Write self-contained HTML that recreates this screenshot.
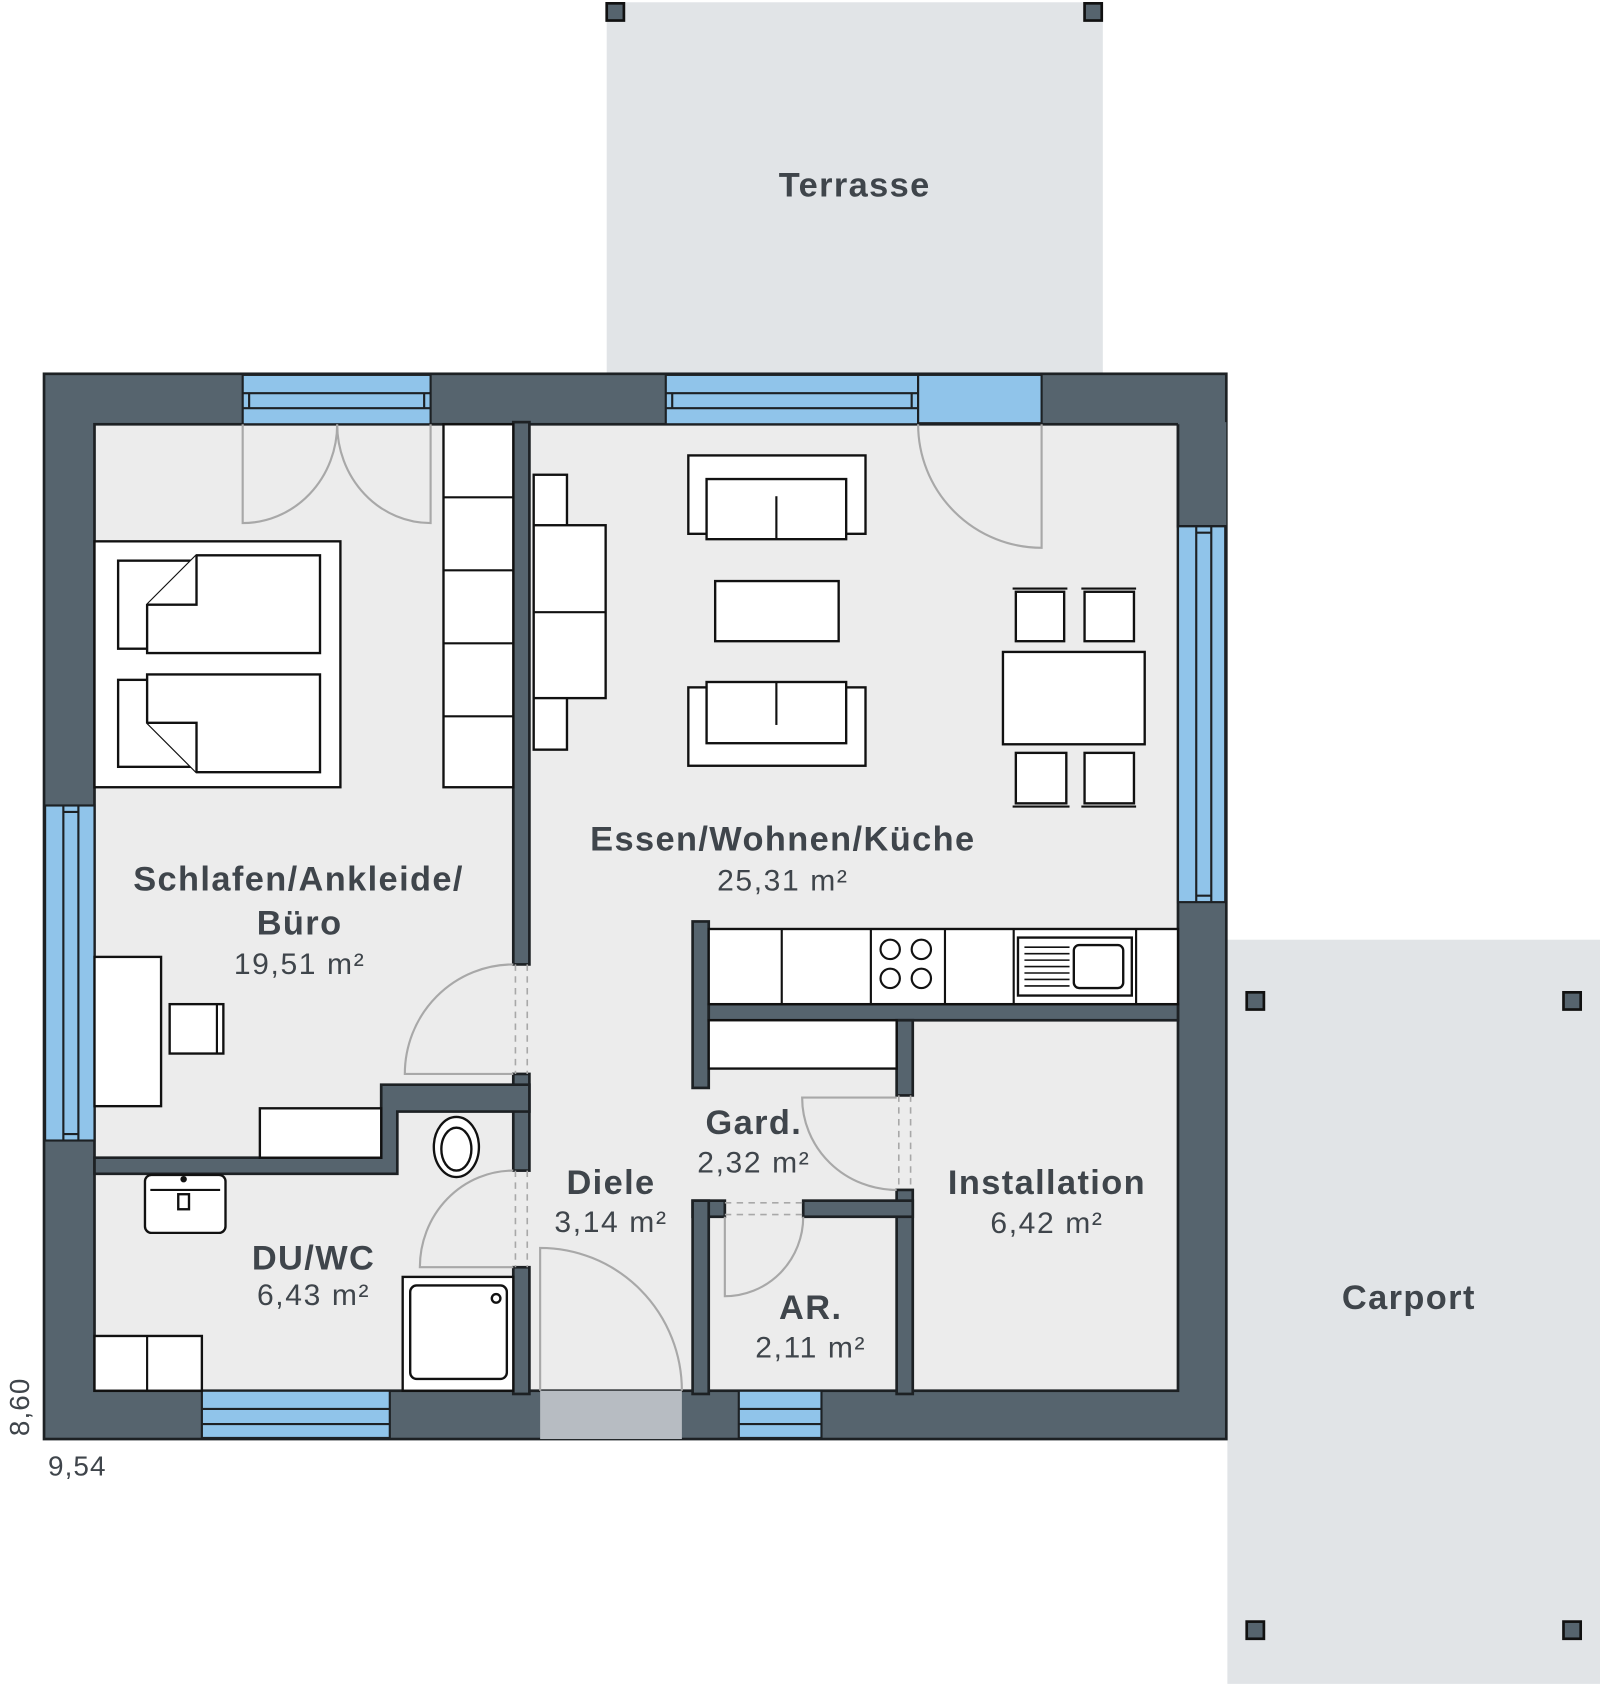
<!DOCTYPE html>
<html><head><meta charset="utf-8"><style>
html,body{margin:0;padding:0;background:#fff}
svg{display:block}
text{font-family:"Liberation Sans",sans-serif;fill:#3f454b;text-anchor:middle}
.b{font-weight:bold;font-size:32px;letter-spacing:1.3px}
.r{font-size:28px;letter-spacing:1.5px}
.w{fill:#56646e;stroke:#1d2124;stroke-width:2.5}
.f{fill:#fff;stroke:#111;stroke-width:2.2}
.d{fill:none;stroke:#a8a8a8;stroke-width:2}
.ds{fill:none;stroke:#a8a8a8;stroke-width:1.5;stroke-dasharray:6 5}
.win{fill:#90c4ea;stroke:#1d2124;stroke-width:2}
.post{fill:#56646e;stroke:#111;stroke-width:2.5}
</style></head><body>
<svg width="1600" height="1684" viewBox="0 0 1490 1568" xmlns="http://www.w3.org/2000/svg">
<rect x="565" y="2" width="462" height="346" fill="#e1e4e7"/>
<rect x="565" y="3" width="16" height="16" class="post"/>
<rect x="1010" y="3" width="16" height="16" class="post"/>
<rect x="1143" y="875" width="347" height="693" fill="#e1e4e7"/>
<rect x="1161" y="924" width="16" height="16" class="post"/>
<rect x="1456" y="924" width="16" height="16" class="post"/>
<rect x="1161" y="1510" width="16" height="16" class="post"/>
<rect x="1456" y="1510" width="16" height="16" class="post"/>
<rect x="41" y="348" width="1101" height="992" class="w"/>
<rect x="88" y="395" width="1009" height="900" fill="#ececec" stroke="#1d2124" stroke-width="2.5"/>
<rect x="1097" y="393" width="45" height="97" fill="#56646e"/>
<path d="M1097 395 V490 H1142" fill="none" stroke="#1d2124" stroke-width="2.5"/>
<rect x="226" y="349" width="175" height="46" class="win"/>
<path d="M226 366 H401 M226 380 H401 M232 366 V380 M395 366 V380" stroke="#1d2124" stroke-width="2" fill="none"/>
<rect x="620" y="349" width="235" height="46" class="win"/>
<path d="M620 366 H855 M620 380 H855 M626 366 V380 M849 366 V380" stroke="#1d2124" stroke-width="2" fill="none"/>
<rect x="855" y="349" width="115" height="45" fill="#90c4ea" stroke="#1d2124" stroke-width="2"/>
<rect x="42" y="750" width="46" height="312" class="win"/>
<path d="M59 750 V1062 M73 750 V1062 M59 756 H73 M59 1056 H73" stroke="#1d2124" stroke-width="2" fill="none"/>
<rect x="1097" y="490" width="44" height="350" class="win"/>
<path d="M1114 490 V840 M1128 490 V840 M1114 496 H1128 M1114 834 H1128" stroke="#1d2124" stroke-width="2" fill="none"/>
<rect x="188" y="1295" width="175" height="44" class="win"/>
<path d="M188 1312 H363 M188 1326 H363" stroke="#1d2124" stroke-width="2" fill="none"/>
<rect x="688" y="1295" width="77" height="44" class="win"/>
<path d="M688 1312 H765 M688 1326 H765" stroke="#1d2124" stroke-width="2" fill="none"/>
<rect x="503" y="1295" width="132" height="45" fill="#b7bcc2"/>
<rect x="478" y="393" width="15" height="505" class="w"/>
<rect x="478" y="1000" width="15" height="90" class="w"/>
<rect x="478" y="1180" width="15" height="118" class="w"/>
<path d="M88 1078 H355 V1010 H493 V1035 H370 V1093 H88 Z" class="w"/>
<rect x="645" y="858" width="15" height="155" class="w"/>
<rect x="660" y="935" width="437" height="15" class="w"/>
<rect x="835" y="950" width="15" height="70" class="w"/>
<rect x="835" y="1108" width="15" height="190" class="w"/>
<rect x="645" y="1118" width="30" height="15" class="w"/>
<rect x="748" y="1118" width="102" height="15" class="w"/>
<rect x="645" y="1118" width="15" height="180" class="w"/>
<rect x="413" y="395" width="65" height="338" class="f"/>
<path d="M413 463 H478 M413 531 H478 M413 599 H478 M413 667 H478" stroke="#111" stroke-width="2"/>
<rect x="88" y="504" width="229" height="229" class="f"/>
<rect x="110" y="522" width="73" height="82" class="f"/>
<path d="M183 517 H298 V608 H137 V563 Z" class="f"/>
<path d="M137 563 H183 V517" class="f"/>
<rect x="110" y="633" width="73" height="81" class="f"/>
<path d="M137 628 H298 V719 H183 L137 673 Z" class="f"/>
<path d="M137 673 H183 V719" class="f"/>
<rect x="88" y="891" width="62" height="139" class="f"/>
<rect x="158" y="935" width="50" height="46" class="f"/>
<path d="M202 935 V981" stroke="#111" stroke-width="2"/>
<rect x="242" y="1032" width="113" height="46" class="f"/>
<rect x="497" y="442" width="31" height="256" class="f"/>
<rect x="497" y="489" width="67" height="161" class="f"/>
<path d="M497 570 H564" stroke="#111" stroke-width="2"/>
<rect x="641" y="424" width="165" height="73" class="f"/>
<rect x="658" y="446" width="130" height="56" class="f"/>
<path d="M723 462 V502" stroke="#111" stroke-width="2"/>
<rect x="666" y="541" width="115" height="56" class="f"/>
<rect x="641" y="640" width="165" height="73" class="f"/>
<rect x="658" y="635" width="130" height="57" class="f"/>
<path d="M723 635 V675" stroke="#111" stroke-width="2"/>
<rect x="934" y="607" width="132" height="86" class="f"/>
<rect x="946" y="551" width="45" height="46" class="f"/>
<rect x="1010" y="551" width="46" height="46" class="f"/>
<rect x="946" y="701" width="47" height="47" class="f"/>
<rect x="1010" y="701" width="46" height="47" class="f"/>
<path d="M943 548 H994 M1007 548 H1058 M943 751 H996 M1007 751 H1058" stroke="#111" stroke-width="2"/>
<rect x="660" y="865" width="437" height="70" class="f"/>
<path d="M728 865 V935 M811 865 V935 M880 865 V935 M944 865 V935 M1058 865 V935" stroke="#111" stroke-width="2"/>
<g fill="none" stroke="#111" stroke-width="2"><circle cx="829" cy="884" r="9"/><circle cx="858" cy="884" r="9"/><circle cx="829" cy="911" r="9"/><circle cx="858" cy="911" r="9"/></g>
<rect x="948" y="873" width="106" height="54" class="f"/>
<rect x="1000" y="880" width="46" height="40" rx="5" class="f"/>
<path d="M954 882 H996 M954 888 H996 M954 894 H996 M954 900 H996 M954 906 H996 M954 912 H996 M954 918 H996" stroke="#111" stroke-width="1.5"/>
<rect x="660" y="950" width="175" height="45" class="f"/>
<rect x="135" y="1094" width="75" height="54" rx="6" class="f"/>
<path d="M140 1108 H205" stroke="#111" stroke-width="2"/>
<rect x="166" y="1112" width="10" height="14" class="f"/>
<circle cx="171" cy="1098" r="3" fill="#111"/>
<ellipse cx="425" cy="1068" rx="21" ry="28" class="f"/>
<ellipse cx="425" cy="1070" rx="14" ry="20" class="f"/>
<rect x="375" y="1189" width="103" height="106" class="f"/>
<rect x="382" y="1197" width="90" height="87" rx="6" class="f"/>
<circle cx="462" cy="1209" r="4" class="f"/>
<rect x="88" y="1244" width="100" height="51" class="f"/>
<path d="M137 1244 V1295" stroke="#111" stroke-width="2"/>
<path d="M226 395 V487 A88 92 0 0 0 314 395 A87 92 0 0 0 401 487 V395" class="d"/>
<path d="M970 395 V510 A115 115 0 0 1 855 395" class="d"/>
<path d="M478 1000 H377 A101 102 0 0 1 478 898" class="d"/>
<path d="M480 898 V1000 M491 898 V1000" class="ds"/>
<path d="M478 1180 H391 A87 90 0 0 1 478 1090" class="d"/>
<path d="M480 1090 V1180 M491 1090 V1180" class="ds"/>
<path d="M503 1295 V1162 A132 133 0 0 1 635 1295" class="d"/>
<path d="M835 1022 H747 A88 86 0 0 0 835 1108" class="d"/>
<path d="M837 1020 V1108 M848 1020 V1108" class="ds"/>
<path d="M675 1133 V1207 A73 74 0 0 0 748 1133" class="d"/>
<path d="M675 1120 H748 M675 1131 H748" class="ds"/>
<text x="796" y="183" class="b">Terrasse</text>
<text x="729" y="792" class="b">Essen/Wohnen/Küche</text>
<text x="729" y="829" class="r">25,31 m²</text>
<text x="278" y="829" class="b">Schlafen/Ankleide/</text>
<text x="279" y="870" class="b">Büro</text>
<text x="279" y="907" class="r">19,51 m²</text>
<text x="702" y="1056" class="b">Gard.</text>
<text x="702" y="1092" class="r">2,32 m²</text>
<text x="569" y="1112" class="b">Diele</text>
<text x="569" y="1147" class="r">3,14 m²</text>
<text x="975" y="1112" class="b">Installation</text>
<text x="975" y="1148" class="r">6,42 m²</text>
<text x="292" y="1182" class="b">DU/WC</text>
<text x="292" y="1215" class="r">6,43 m²</text>
<text x="755" y="1228" class="b">AR.</text>
<text x="755" y="1264" class="r">2,11 m²</text>
<text x="1312" y="1219" class="b">Carport</text>
<text x="72" y="1374" style="font-size:26px;letter-spacing:1px">9,54</text>
<text x="0" y="0" style="font-size:26px;letter-spacing:1px" transform="translate(27,1310) rotate(-90)">8,60</text>
</svg>
</body></html>
